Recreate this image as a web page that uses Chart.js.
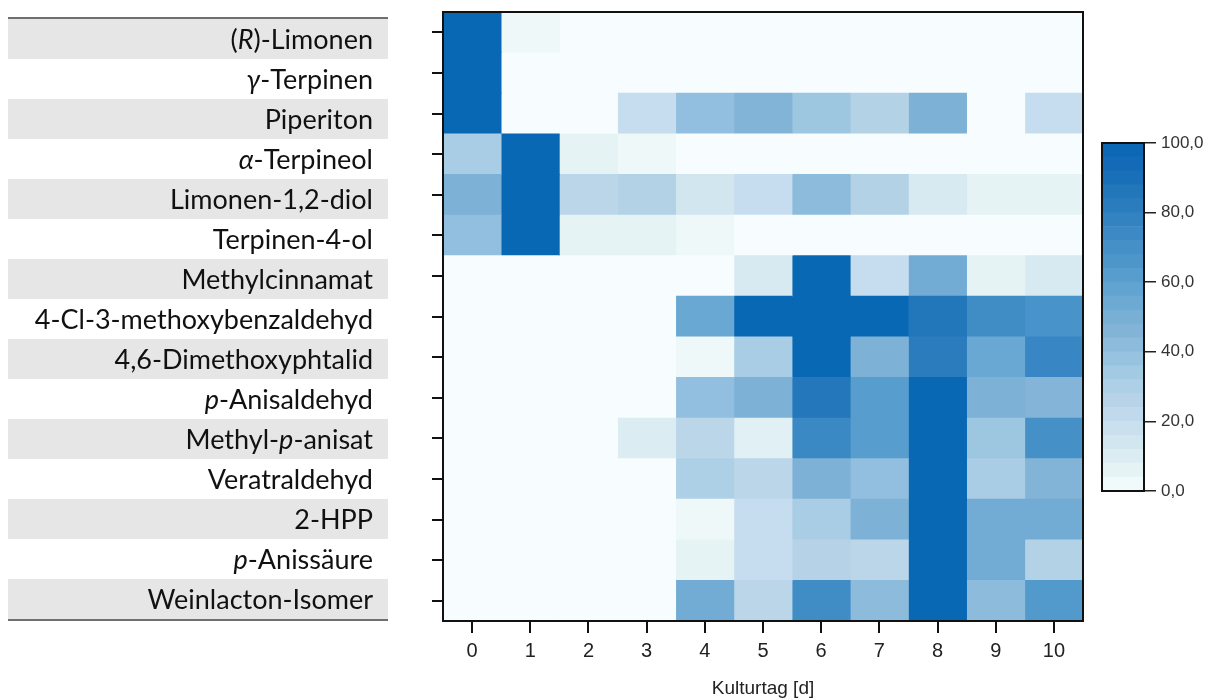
<!DOCTYPE html>
<html>
<head>
<meta charset="utf-8">
<script src="https://cdn.jsdelivr.net/npm/chart.js@4.4.1/dist/chart.umd.min.js"></script>
<style>
  html, body { margin: 0; padding: 0; background: #fff; width: 1208px; height: 700px; overflow: hidden; }
  #heat { position: absolute; left: 0; top: 0; }
  #scale { position: absolute; left: 1090px; top: 120px; }
  #names {
    position: absolute; left: 8px; top: 17px; width: 380px;
    border-top: 2px solid #6f6f6f; border-bottom: 2px solid #6f6f6f;
    font-family: Lato, "Open Sans", "DejaVu Sans", sans-serif; color: #111;
  }
  #names div { height: 40px; line-height: 40px; text-align: right; padding-right: 15px; font-size: 27px; white-space: nowrap; }
  #names div.band { background: #e6e6e6; }
</style>
</head>
<body>
<canvas id="heat" width="1090" height="700"></canvas>
<canvas id="scale" width="118" height="390"></canvas>
<div id="names"></div>
<script>
// Culture days (x axis)
const days = [0, 1, 2, 3, 4, 5, 6, 7, 8, 9, 10];

// Compound names; *...* marks italic prefixes
const compounds = [
  "(*R*)-Limonen", "*γ*-Terpinen", "Piperiton", "*α*-Terpineol", "Limonen-1,2-diol",
  "Terpinen-4-ol", "Methylcinnamat", "4-Cl-3-methoxybenzaldehyd", "4,6-Dimethoxyphtalid",
  "*p*-Anisaldehyd", "Methyl-*p*-anisat", "Veratraldehyd", "2-HPP", "*p*-Anissäure",
  "Weinlacton-Isomer"
];

// Relative intensity (%) per compound and day
const limonen        = [100, 3, 0, 0, 0, 0, 0, 0, 0, 0, 0];
const terpinen       = [100, 0, 0, 0, 0, 0, 0, 0, 0, 0, 0];
const piperiton      = [100, 0, 0, 20, 40, 46, 36, 28, 48, 0, 20];
const terpineol      = [32, 100, 6, 3, 0, 0, 0, 0, 0, 0, 0];
const limonendiol    = [48, 100, 24, 28, 14, 20, 42, 28, 12, 6, 6];
const terpinenol     = [40, 100, 6, 6, 3, 0, 0, 0, 0, 0, 0];
const methylcinnamat = [0, 0, 0, 0, 0, 12, 100, 20, 52, 6, 12];
const clMethoxyBenz  = [0, 0, 0, 0, 55, 100, 100, 100, 86, 72, 68];
const dimethoxyphtal = [0, 0, 0, 0, 3, 32, 100, 48, 82, 55, 76];
const anisaldehyd    = [0, 0, 0, 0, 40, 48, 85, 62, 100, 48, 45];
const methylAnisat   = [0, 0, 0, 10, 24, 8, 75, 62, 100, 36, 70];
const veratraldehyd  = [0, 0, 0, 0, 30, 24, 48, 40, 100, 32, 46];
const hpp            = [0, 0, 0, 0, 3, 20, 32, 48, 100, 52, 52];
const anissaeure     = [0, 0, 0, 0, 6, 20, 27, 24, 100, 52, 28];
const weinlacton     = [0, 0, 0, 0, 52, 24, 72, 42, 100, 42, 64];

const intensity = [limonen, terpinen, piperiton, terpineol, limonendiol, terpinenol,
  methylcinnamat, clMethoxyBenz, dimethoxyphtal, anisaldehyd, methylAnisat,
  veratraldehyd, hpp, anissaeure, weinlacton];

// Colour bar ticks
const scaleTicks = [0, 20, 40, 60, 80, 100];

// Colour ramp, light cyan-white to deep blue
const ramp = [
  [0, "#f7fdfe"], [5, "#e8f5f6"], [10, "#dbecf3"], [15, "#d0e5ee"], [20, "#c6dcef"],
  [25, "#bad4e7"], [30, "#aed0e6"], [35, "#a0c8e2"], [40, "#92bfdf"], [45, "#84b5d8"],
  [50, "#78afd5"], [55, "#69a8d3"], [60, "#5da1cf"], [65, "#4f98cb"], [70, "#4490c7"],
  [75, "#3a88c4"], [80, "#2e7fbe"], [85, "#2477bb"], [90, "#1a70b8"], [95, "#1169b6"],
  [100, "#0868b4"]
];
function hex(c) { return [1, 3, 5].map(i => parseInt(c.substr(i, 2), 16)); }
function colorAt(v) {
  v = Math.max(0, Math.min(100, v));
  for (let i = 1; i < ramp.length; i++) {
    if (v <= ramp[i][0]) {
      const [a, ca] = ramp[i - 1], [b, cb] = ramp[i];
      const t = (v - a) / (b - a), p = hex(ca), q = hex(cb);
      return "rgb(" + p.map((x, k) => Math.round(x + (q[k] - x) * t)).join(",") + ")";
    }
  }
  return ramp[ramp.length - 1][1];
}

// Name panel with alternating bands
const panel = document.getElementById("names");
compounds.forEach((name, i) => {
  const d = document.createElement("div");
  if (i % 2 === 0) d.className = "band";
  d.innerHTML = name.replace(/\*(.+?)\*/g, "<i>$1</i>");
  panel.appendChild(d);
});
const plainNames = compounds.map(n => n.replace(/\*/g, ""));

// Black frame around the plotting area
const frame = {
  id: "frame",
  afterDatasetsDraw(chart) {
    const { ctx, chartArea: a } = chart;
    ctx.save();
    ctx.strokeStyle = "#111";
    ctx.lineWidth = 2;
    ctx.strokeRect(a.left, a.top, a.right - a.left, a.bottom - a.top);
    ctx.restore();
  }
};

const axisFont = { family: "'Liberation Sans', Arial, sans-serif" };

new Chart(document.getElementById("heat"), {
  type: "bar",
  data: {
    labels: plainNames,
    datasets: days.map((d, j) => ({
      label: "Tag " + d,
      data: plainNames.map(() => [d - 0.5, d + 0.5]),
      backgroundColor: c => colorAt(intensity[c.dataIndex][j]),
      borderWidth: 0,
      grouped: false,
      categoryPercentage: 1,
      barPercentage: 1
    }))
  },
  options: {
    indexAxis: "y",
    responsive: false,
    animation: false,
    layout: { padding: { top: 12, right: 7, left: 0, bottom: 0 } },
    plugins: { legend: { display: false }, tooltip: { enabled: false } },
    scales: {
      x: {
        type: "linear", min: -0.5, max: 10.5,
        afterBuildTicks: s => { s.ticks = days.map(v => ({ value: v })); },
        grid: { drawOnChartArea: false, drawTicks: true, tickLength: 12, color: "#111", lineWidth: 2 },
        border: { display: true, color: "#111", width: 2 },
        ticks: { padding: 6, color: "#222", font: { ...axisFont, size: 20 }, callback: v => String(v), autoSkip: false, maxRotation: 0 },
        title: { display: true, text: "Kulturtag [d]", color: "#222", font: { ...axisFont, size: 19 }, padding: 0 },
        afterFit: s => { s.height = 79; }
      },
      y: {
        type: "category",
        grid: { offset: false, drawOnChartArea: false, drawTicks: true, tickLength: 11, color: "#111", lineWidth: 2 },
        border: { display: true, color: "#111", width: 2 },
        ticks: { display: false },
        afterFit: s => { s.width = 443; }
      }
    }
  },
  plugins: [frame]
});

// Colour bar: 25 stacked steps of 4 %
const steps = Array.from({ length: 25 }, (_, i) => i * 4);
new Chart(document.getElementById("scale"), {
  type: "bar",
  data: {
    labels: [""],
    datasets: steps.map(s => ({
      data: [4],
      backgroundColor: colorAt(s + 2),
      borderWidth: 0,
      barPercentage: 1,
      categoryPercentage: 1,
      stack: "bar"
    }))
  },
  options: {
    responsive: false,
    animation: false,
    layout: { padding: { left: 12, top: 23, bottom: 19, right: 0 } },
    plugins: { legend: { display: false }, tooltip: { enabled: false } },
    scales: {
      x: { display: false, stacked: true },
      y: {
        stacked: true, position: "right", min: 0, max: 100,
        afterBuildTicks: s => { s.ticks = scaleTicks.map(v => ({ value: v })); },
        ticks: { padding: 5, color: "#333", font: { ...axisFont, size: 17 }, callback: v => v.toFixed(1).replace(".", ",") },
        grid: { drawOnChartArea: false, drawTicks: true, tickLength: 12, color: "#222", lineWidth: 1.5 },
        border: { display: true, color: "#222", width: 1.5 },
        afterFit: s => { s.width = 64; }
      }
    }
  },
  plugins: [frame]
});
</script>
</body>
</html>
